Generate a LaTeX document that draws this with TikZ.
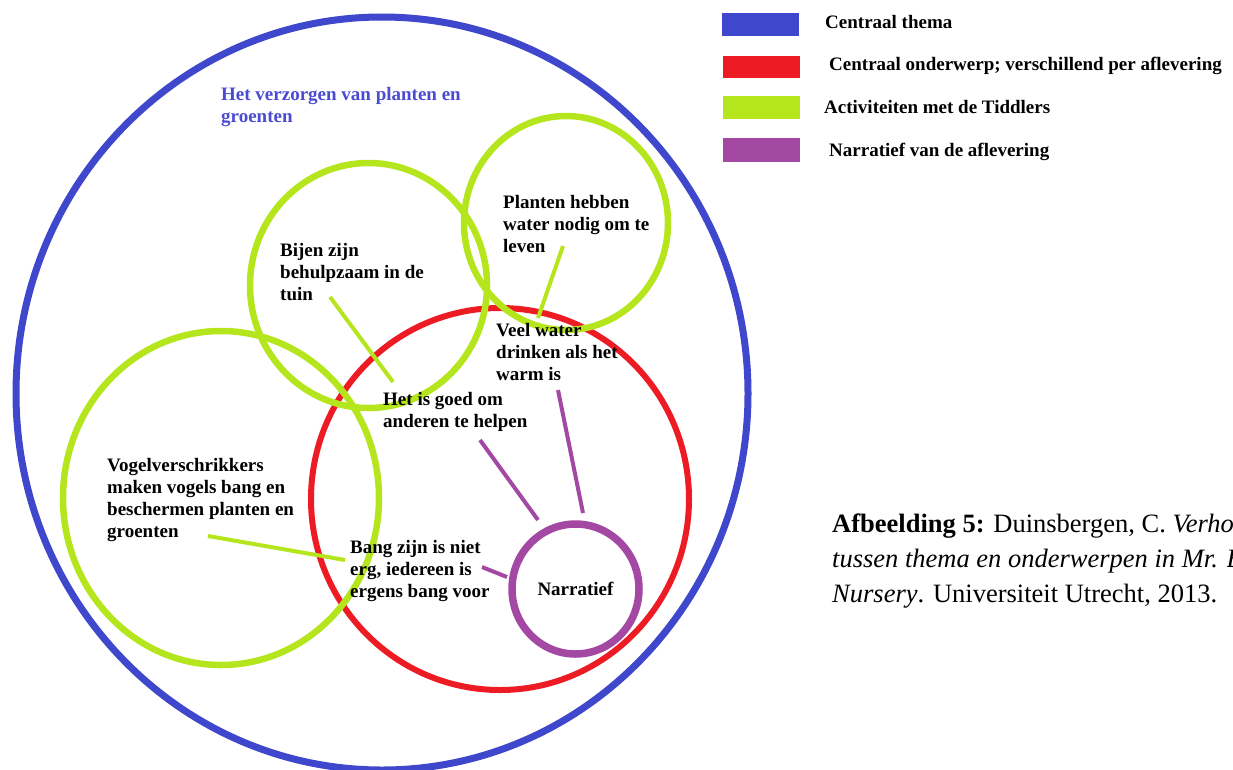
\documentclass[tikz,border=0pt]{standalone}
\usepackage{fontspec}
\setmainfont{Liberation Serif}
\usetikzlibrary{shapes.geometric}
\definecolor{pblue}{HTML}{3F48CC}
\definecolor{pred}{HTML}{ED1C24}
\definecolor{pgreen}{HTML}{B5E61D}
\definecolor{ppurple}{HTML}{A349A4}
\definecolor{ptext}{HTML}{4B4BD2}
\begin{document}
\begin{tikzpicture}[x=1pt,y=-1pt,
  ring/.style={ellipse, inner sep=0pt, draw},
  lbl/.style={anchor=north west, inner sep=0pt, align=left, font=\fontsize{19}{22}\selectfont\bfseries},
  legbox/.style={anchor=north west, inner sep=0pt, minimum width=77pt, minimum height=23pt},
  gline/.style={draw=pgreen, line width=4pt},
  pline/.style={draw=ppurple, line width=4pt}]
\useasboundingbox (0,0) rectangle (1233,769);
\clip (0,0) rectangle (1233,769);
% circles
\node[ring, draw=pblue, line width=7pt, minimum width=732pt, minimum height=753pt] (theme) at (382,393.5) {};
\node[ring, draw=pred, line width=6pt, minimum width=378pt, minimum height=382pt] (topic) at (500,499) {};
\node[ring, draw=pgreen, line width=6.5pt, minimum width=316pt, minimum height=334pt] (gvogel) at (221,498) {};
\node[ring, draw=pgreen, line width=6.5pt, minimum width=237pt, minimum height=245pt] (gbijen) at (368.5,285.5) {};
\node[ring, draw=pgreen, line width=6.5pt, minimum width=204pt, minimum height=214pt] (gplanten) at (566,223) {};
\node[ring, draw=ppurple, line width=7.5pt, minimum width=127pt, minimum height=130pt, font=\fontsize{19}{22}\selectfont\bfseries] (narr) at (575.5,589) {Narratief};
% texts
\node[lbl, text=ptext] (verz) at (221,87) {Het verzorgen van planten en\\groenten};
\node[lbl] (planten) at (503,195) {Planten hebben\\water nodig om te\\leven};
\node[lbl] (bijen) at (280,243) {Bijen zijn\\behulpzaam in de\\tuin};
\node[lbl] (veel) at (496,323) {Veel water\\drinken als het\\warm is};
\node[lbl] (hetis) at (383,392) {Het is goed om\\anderen te helpen};
\node[lbl] (vogel) at (107,458) {Vogelverschrikkers\\maken vogels bang en\\beschermen planten en\\groenten};
\node[lbl] (bang) at (350,540) {Bang zijn is niet\\erg, iedereen is\\ergens bang voor};
% connectors
\coordinate (c1) at (330,297); \coordinate (c2) at (393,382);
\coordinate (c3) at (563,246); \coordinate (c4) at (538,318);
\coordinate (c5) at (208,536); \coordinate (c6) at (345,560);
\coordinate (c7) at (482,567); \coordinate (c8) at (507,577);
\coordinate (c9) at (480,440); \coordinate (c10) at (538,520);
\coordinate (c11) at (558,390); \coordinate (c12) at (583,513);
\draw[gline] (c1) -- (c2);
\draw[gline] (c3) -- (c4);
\draw[gline] (c5) -- (c6);
\draw[pline] (c7) -- (c8);
\draw[pline] (c9) -- (c10);
\draw[pline] (c11) -- (c12);
% legend
\node[legbox, fill=pblue] (lblue) at (722,13) {};
\node[legbox, fill=pred, minimum height=22pt] (lred) at (723,56) {};
\node[legbox, fill=pgreen] (lgreen) at (723,96) {};
\node[legbox, fill=ppurple, minimum height=24pt] (lpurple) at (723,138) {};
\node[lbl] (tblue) at (825,15) {Centraal thema};
\node[lbl] (tred) at (829,57) {Centraal onderwerp; verschillend per aflevering};
\node[lbl] (tgreen) at (824,100) {Activiteiten met de Tiddlers};
\node[lbl] (tpurple) at (829,143) {Narratief van de aflevering};
% caption
\node[anchor=north west, inner sep=0pt, align=left, font=\fontsize{26.5}{35}\selectfont] (caption) at (832,514)
  {\textbf{Afbeelding 5:} Duinsbergen, C. \textit{Verhouding}\\\textit{tussen thema en onderwerpen in Mr. Bloom's}\\\textit{Nursery}. Universiteit Utrecht, 2013.};
\end{tikzpicture}
\end{document}
